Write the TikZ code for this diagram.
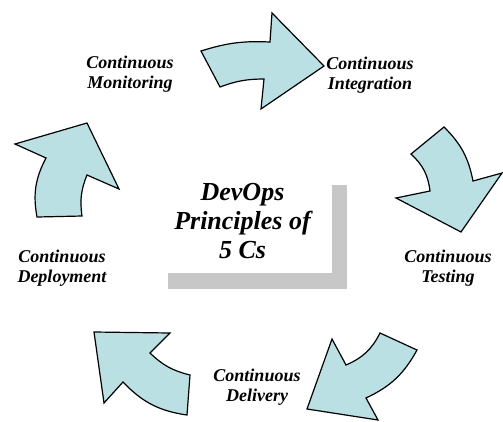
\documentclass[tikz,border=0pt]{standalone}
\usepackage{fontspec}
\setmainfont{Liberation Serif}
\usetikzlibrary{shadows}

\definecolor{arrowfill}{RGB}{186,224,228}

\begin{document}
\begin{tikzpicture}[x=1pt,y=-1pt,
    cycarrow/.style={fill=arrowfill,draw=black,line width=1.2pt,line join=miter},
    phase/.style={align=center,font=\bfseries\itshape\fontsize{18}{20}\selectfont},
    title/.style={align=center,fill=white,minimum width=179pt,minimum height=104pt,
      font=\bfseries\itshape\fontsize{26}{29}\selectfont,
      drop shadow={shadow xshift=15pt,shadow yshift=-16pt,fill=black!22,opacity=1}}]
  \useasboundingbox (0,0) rectangle (503,421);
  % Centre box
  \node[title] (C) at (242.5,221) {DevOps\\Principles of\\5 Cs};
  % Curved arrows, clockwise
  \draw[cycarrow] (201,51) to[bend left=10] (270,42) -- (272,13) -- (324,66)
    -- (261,109) -- (264,79) to[bend right=10] (220,87) -- cycle;
  \draw[cycarrow] (444,127) to[bend left=17] (473,181) -- (502,173) -- (461,232)
    -- (396,198) -- (430,191) to[bend right=20] (411,154) -- cycle;
  \draw[cycarrow] (380,333) -- (417,350) to[bend left=18] (366,398) -- (378,420)
    -- (307,409) -- (332,339) -- (346,365) to[bend right=20] (380,333) -- cycle;
  \draw[cycarrow] (94,332) -- (170,333) -- (150,353) to[bend right=15] (190,375)
    -- (187,415) to[bend left=19] (123,382) -- (104,403) -- cycle;
  \draw[cycarrow] (37,217) -- (82,216) to[bend left=15] (87,175) -- (119,189)
    -- (87,123) -- (15,144) -- (46,158) to[bend right=19] (37,217) -- cycle;
  % Labels
  \node[phase] (mon) at (130,74) {Continuous\\Monitoring};
  \node[phase] (int) at (370,75) {Continuous\\Integration};
  \node[phase] (tst) at (448,268) {Continuous\\Testing};
  \node[phase] (dlv) at (257,387) {Continuous\\Delivery};
  \node[phase] (dpl) at (62,268) {Continuous\\Deployment};
\end{tikzpicture}
\end{document}
